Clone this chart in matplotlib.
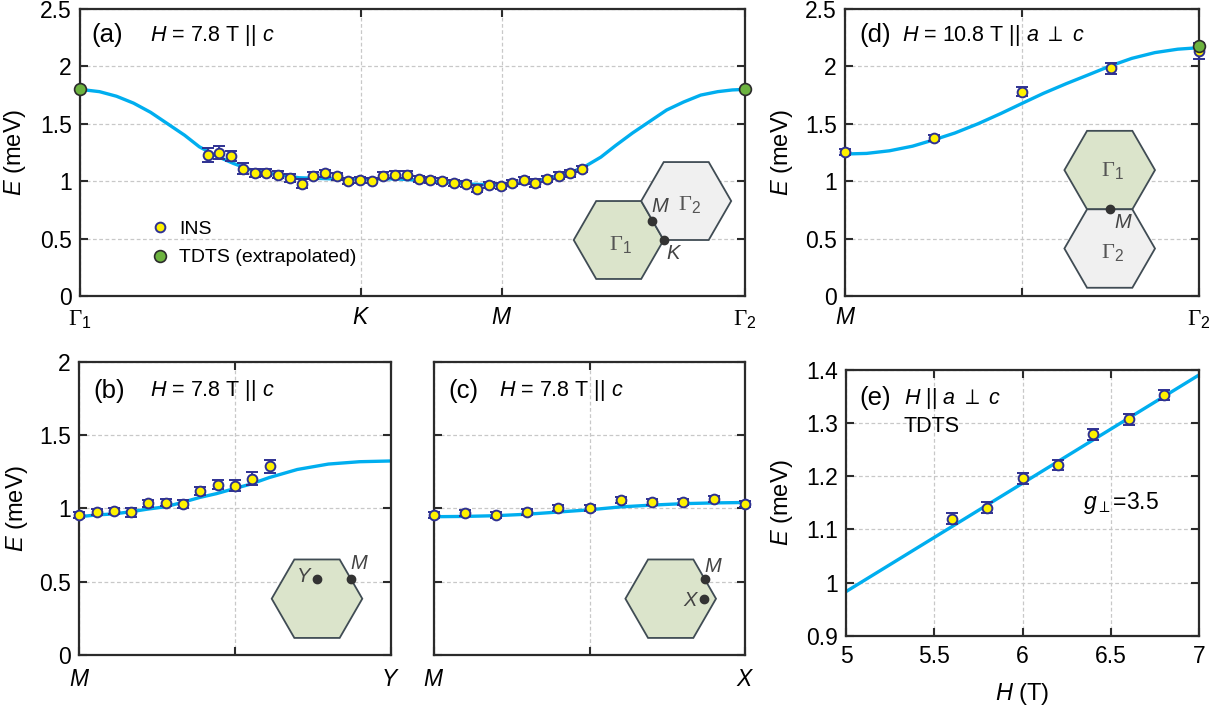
import matplotlib
matplotlib.use("Agg")
import matplotlib.pyplot as plt
import numpy as np
from matplotlib.patches import RegularPolygon
from matplotlib.lines import Line2D

plt.rcParams['font.family'] = ['Liberation Sans', 'DejaVu Sans']
plt.rcParams['mathtext.fontset'] = 'custom'
plt.rcParams['mathtext.rm'] = 'Liberation Sans'
plt.rcParams['mathtext.it'] = 'Liberation Sans:italic'

# ---- data ----
# (a) path Gamma1 - K - M - Gamma2 (path length units, Gamma-M = 1)
path_ticks = [0, 1.155, 1.732, 2.732]
path_labels = ['Γ$_1$', '$K$', '$M$', 'Γ$_2$']
qa = [0.526, 0.572, 0.622, 0.671, 0.719, 0.765, 0.815, 0.863, 0.911, 0.958,
      1.007, 1.055, 1.102, 1.150, 1.198, 1.246, 1.294, 1.342, 1.392, 1.439,
      1.487, 1.535, 1.585, 1.632, 1.680, 1.728, 1.776, 1.824, 1.871, 1.919,
      1.967, 2.014, 2.061]
ea = [1.231, 1.250, 1.217, 1.109, 1.074, 1.074, 1.057, 1.028, 0.978, 1.048,
      1.069, 1.043, 0.999, 1.008, 1.005, 1.048, 1.057, 1.057, 1.019, 1.010,
      0.999, 0.987, 0.976, 0.935, 0.970, 0.956, 0.984, 1.008, 0.987, 1.019,
      1.048, 1.069, 1.106]
ea_err = [0.06, 0.055, 0.045, 0.05, 0.035, 0.03, 0.03, 0.035, 0.04, 0.03,
          0.03, 0.03, 0.025, 0.025, 0.025, 0.03, 0.03, 0.03, 0.03, 0.03,
          0.025, 0.025, 0.025, 0.03, 0.025, 0.025, 0.025, 0.03, 0.035, 0.03,
          0.03, 0.03, 0.03]
qa_fit = [0, 0.08, 0.15, 0.22, 0.29, 0.36, 0.43, 0.49, 0.56, 0.63, 0.70, 0.77,
          0.90, 1.04, 1.155, 1.30, 1.45, 1.60, 1.732, 1.85, 1.95, 2.0, 2.06,
          2.14, 2.2, 2.27, 2.34, 2.41, 2.48, 2.55, 2.62, 2.68, 2.732]
ea_fit = [1.80, 1.78, 1.74, 1.68, 1.60, 1.50, 1.40, 1.30, 1.22, 1.155, 1.10,
          1.07, 1.03, 1.02, 1.02, 1.02, 1.00, 0.975, 0.965, 0.99, 1.04, 1.07,
          1.11, 1.21, 1.31, 1.42, 1.52, 1.62, 1.69, 1.75, 1.78, 1.795, 1.80]
qa_tdts = [0, 2.732]
ea_tdts = [1.80, 1.80]

# (b) M - Y
qb = [0, 0.056, 0.111, 0.167, 0.222, 0.278, 0.333, 0.389, 0.444, 0.5, 0.556, 0.611]
eb = [0.957, 0.975, 0.984, 0.973, 1.034, 1.039, 1.030, 1.118, 1.161, 1.155, 1.202, 1.286]
eb_err = [0.02, 0.02, 0.02, 0.03, 0.025, 0.025, 0.03, 0.025, 0.03, 0.04, 0.045, 0.045]
qb_fit = [0, 0.055, 0.11, 0.166, 0.22, 0.277, 0.33, 0.388, 0.44, 0.5, 0.55, 0.61,
          0.7, 0.8, 0.9, 1.0]
eb_fit = [0.943, 0.955, 0.962, 0.977, 0.995, 1.011, 1.04, 1.075, 1.10, 1.136,
          1.165, 1.21, 1.265, 1.302, 1.318, 1.323]

# (c) M - X
qc = [0, 0.1, 0.2, 0.3, 0.4, 0.5, 0.6, 0.7, 0.8, 0.9, 1.0]
ec = [0.957, 0.966, 0.957, 0.973, 1.005, 1.005, 1.055, 1.043, 1.043, 1.061, 1.032]
ec_err = [0.02] * 11
qc_fit = [0, 0.1, 0.2, 0.3, 0.4, 0.5, 0.6, 0.7, 0.8, 0.9, 1.0]
ec_fit = [0.943, 0.945, 0.95, 0.96, 0.975, 0.99, 1.01, 1.022, 1.032, 1.037, 1.04]

# (d) M - Gamma2 at 10.8 T
qd = [0, 0.25, 0.5, 0.75, 1.0]
ed = [1.254, 1.379, 1.78, 1.983, 2.137]
ed_err = [0.03, 0.025, 0.04, 0.05, 0.07]
qd_fit = [0, 0.06, 0.125, 0.19, 0.25, 0.31, 0.375, 0.44, 0.5, 0.56, 0.625,
          0.69, 0.75, 0.81, 0.875, 0.94, 1.0]
ed_fit = [1.237, 1.242, 1.265, 1.305, 1.36, 1.42, 1.50, 1.59, 1.678, 1.765,
          1.85, 1.93, 2.005, 2.07, 2.12, 2.15, 2.163]
qd_tdts = [1.0]
ed_tdts = [2.178]

# (e) field dependence, TDTS
H = [5.6, 5.8, 6.0, 6.2, 6.4, 6.6, 6.8]
Ee = [1.120, 1.141, 1.196, 1.221, 1.279, 1.307, 1.353]
Ee_err = [0.01] * 7
H_fit = [5, 7]
Ee_fit = [0.983, 1.391]

# ---- style ----
W, Hpx = 1223, 710
cyan = '#00aeef'
yellow = '#fff200'
navy = '#2e3192'
green = '#6cb33f'
dark = '#2b2b2b'
hex_green = '#dbe4cb'
hex_gray = '#f0f0f0'
hex_edge = '#404c54'
TICK = 16.5
PANEL = 18.5
TXT = 15.5
YL = 17

fig = plt.figure(figsize=(W / 100, Hpx / 100), dpi=100)


def px_axes(x0, y0, x1, y1):
    return fig.add_axes([x0 / W, 1 - y1 / Hpx, (x1 - x0) / W, (y1 - y0) / Hpx])


def style(ax):
    ax.tick_params(direction='in', top=True, right=True, length=6, width=1.5,
                   labelsize=TICK, color=dark)
    ax.tick_params(axis='x', pad=9)
    ax.tick_params(axis='y', pad=6)
    for s in ax.spines.values():
        s.set_linewidth(1.6)
        s.set_color(dark)
    ax.grid(True, ls=(0, (3, 2)), color='#c8c8c8', lw=0.9)
    ax.set_axisbelow(True)


def ins(ax, q, e, err):
    ax.errorbar(q, e, yerr=err, fmt='o', ms=7, mfc=yellow, mec=navy, mew=1.4,
                ecolor=navy, elinewidth=1.3, capsize=4.5, capthick=1.3,
                zorder=3, clip_on=False)


def fit(ax, q, e):
    ax.plot(q, e, color=cyan, lw=2.4, zorder=2, solid_capstyle='butt')


def tdts(ax, q, e):
    ax.plot(q, e, 'o', ms=8.5, mfc=green, mec=dark, mew=1.2, zorder=4, clip_on=False)


def hex_inset(cx, cy, R, w, h):
    a = px_axes(cx - w / 2, cy - h / 2, cx + w / 2, cy + h / 2)
    a.set_xlim(-w / 2 / R, w / 2 / R)
    a.set_ylim(-h / 2 / R, h / 2 / R)
    a.axis('off')
    return a


def hexagon(a, x, y, fc):
    a.add_patch(RegularPolygon((x, y), 6, radius=1, orientation=np.pi / 6,
                               fc=fc, ec=hex_edge, lw=1.3))


def dot(a, x, y):
    a.plot([x], [y], 'o', ms=6, color='#333333', zorder=5)


def lab(a, x, y, s, gamma=False):
    if gamma:
        a.text(x, y, s, fontsize=16, color='#555555', ha='center', va='center',
               family='Liberation Serif')
    else:
        a.text(x, y, s, fontsize=14.5, color='#444444', ha='center', va='center')


ylab = '$E$ (meV)'

# (a)
ax = px_axes(80, 9, 745, 296)
style(ax)
fit(ax, qa_fit, ea_fit)
ins(ax, qa, ea, ea_err)
tdts(ax, qa_tdts, ea_tdts)
ax.set_xlim(path_ticks[0], path_ticks[-1])
ax.set_ylim(0, 2.5)
ax.set_xticks(path_ticks)
ax.set_xticklabels(path_labels, family='Liberation Serif')
ax.set_yticks([0, 0.5, 1, 1.5, 2, 2.5])
ax.set_yticklabels(['0', '0.5', '1', '1.5', '2', '2.5'])
ax.set_ylabel(ylab, fontsize=YL)
ax.yaxis.set_label_coords(-0.078, 0.5)
ax.text(0.017, 0.909, '(a)', transform=ax.transAxes, fontsize=PANEL, va='center')
ax.text(0.105, 0.909, '$H$ = 7.8 T || $c$', transform=ax.transAxes,
        fontsize=TXT, va='center')
handles = [Line2D([], [], ls='', marker='o', ms=7, mfc=yellow, mec=navy, mew=1.4),
           Line2D([], [], ls='', marker='o', ms=8.5, mfc=green, mec=dark, mew=1.2)]
ax.legend(handles, ['INS', 'TDTS (extrapolated)'], loc='center left',
          bbox_to_anchor=(0.108, 0.183), frameon=False, fontsize=14,
          handlelength=0.8, handletextpad=0.6, labelspacing=0.55,
          borderpad=0, borderaxespad=0)

a = hex_inset(618.7, 240, 45, 250, 200)
hexagon(a, 0, 0, hex_green)
hexagon(a, 1.5, 0.866, hex_gray)
dot(a, 0.75, 0.433)
dot(a, 1.0, 0)
lab(a, 0.03, -0.12, 'Γ$_1$', gamma=True)
lab(a, 1.58, 0.77, 'Γ$_2$', gamma=True)
lab(a, 0.92, 0.74, '$M$')
lab(a, 1.23, -0.29, '$K$')

# (d)
ax = px_axes(845.3, 9, 1199, 296)
style(ax)
fit(ax, qd_fit, ed_fit)
ins(ax, qd, ed, ed_err)
tdts(ax, qd_tdts, ed_tdts)
ax.set_xlim(0, 1)
ax.set_ylim(0, 2.5)
ax.set_xticks([0, 0.5, 1])
ax.set_xticklabels(['$M$', '', 'Γ$_2$'], family='Liberation Serif')
ax.set_yticks([0, 0.5, 1, 1.5, 2, 2.5])
ax.set_yticklabels(['0', '0.5', '1', '1.5', '2', '2.5'])
ax.set_ylabel(ylab, fontsize=YL)
ax.yaxis.set_label_coords(-0.142, 0.5)
ax.text(0.04, 0.909, '(d)', transform=ax.transAxes, fontsize=PANEL, va='center')
ax.text(0.159, 0.909, r'$H$ = 10.8 T || $a$ $\perp$ $c$', transform=ax.transAxes,
        fontsize=TXT, va='center')

a = hex_inset(1109.7, 209.3, 45.3, 140, 200)
hexagon(a, 0, 0.866, hex_green)
hexagon(a, 0, -0.866, hex_gray)
dot(a, 0, 0)
lab(a, 0.07, 0.85, 'Γ$_1$', gamma=True)
lab(a, 0.07, -0.97, 'Γ$_2$', gamma=True)
lab(a, 0.3, -0.29, '$M$')

# (b)
ax = px_axes(79.3, 361.7, 390.7, 655)
style(ax)
fit(ax, qb_fit, eb_fit)
ins(ax, qb, eb, eb_err)
ax.set_xlim(0, 1)
ax.set_ylim(0, 2)
ax.set_xticks([0, 0.5, 1])
ax.set_xticklabels(['$M$', '', '$Y$'])
ax.set_yticks([0, 0.5, 1, 1.5, 2])
ax.set_yticklabels(['0', '0.5', '1', '1.5', '2'])
ax.set_ylabel(ylab, fontsize=YL)
ax.yaxis.set_label_coords(-0.158, 0.5)
ax.text(0.045, 0.901, '(b)', transform=ax.transAxes, fontsize=PANEL, va='center')
ax.text(0.227, 0.901, '$H$ = 7.8 T || $c$', transform=ax.transAxes,
        fontsize=TXT, va='center')

a = hex_inset(317, 598.7, 45.3, 140, 110)
hexagon(a, 0, 0, hex_green)
dot(a, 0, 0.433)
dot(a, 0.75, 0.433)
lab(a, -0.27, 0.5, '$Y$')
lab(a, 0.93, 0.78, '$M$')

# (c)
ax = px_axes(434, 361.7, 745, 655)
style(ax)
fit(ax, qc_fit, ec_fit)
ins(ax, qc, ec, ec_err)
ax.set_xlim(0, 1)
ax.set_ylim(0, 2)
ax.set_xticks([0, 0.5, 1])
ax.set_xticklabels(['$M$', '', '$X$'])
ax.set_yticks([0, 0.5, 1, 1.5, 2])
ax.set_yticklabels([])
ax.text(0.045, 0.901, '(c)', transform=ax.transAxes, fontsize=PANEL, va='center')
ax.text(0.21, 0.901, '$H$ = 7.8 T || $c$', transform=ax.transAxes,
        fontsize=TXT, va='center')

a = hex_inset(670.7, 598.7, 45.3, 140, 110)
hexagon(a, 0, 0, hex_green)
dot(a, 0.75, 0.433)
dot(a, 0.73, 0.0)
lab(a, 0.94, 0.72, '$M$')
lab(a, 0.45, -0.03, '$X$')

# (e)
ax = px_axes(846, 370, 1199.3, 635.7)
style(ax)
fit(ax, H_fit, Ee_fit)
ins(ax, H, Ee, Ee_err)
ax.set_xlim(5, 7)
ax.set_ylim(0.9, 1.4)
ax.set_xticks([5, 5.5, 6, 6.5, 7])
ax.set_xticklabels(['5', '5.5', '6', '6.5', '7'])
ax.set_yticks([0.9, 1.0, 1.1, 1.2, 1.3, 1.4])
ax.set_yticklabels(['0.9', '1', '1.1', '1.2', '1.3', '1.4'])
ax.tick_params(axis='x', pad=7)
ax.set_ylabel(ylab, fontsize=YL)
ax.yaxis.set_label_coords(-0.144, 0.5)
ax.set_xlabel('$H$ (T)', fontsize=YL)
ax.xaxis.set_label_coords(0.5, -0.17)
ax.text(0.037, 0.893, '(e)', transform=ax.transAxes, fontsize=PANEL, va='center')
ax.text(0.164, 0.893, r'$H$ || $a$ $\perp$ $c$', transform=ax.transAxes,
        fontsize=TXT, va='center')
ax.text(0.164, 0.789, 'TDTS', transform=ax.transAxes, fontsize=TXT, va='center')
ax.text(0.672, 0.50, r'$g_{\perp}$=3.5', transform=ax.transAxes,
        fontsize=16.5, va='center')

fig.savefig('out.png', dpi=100)
